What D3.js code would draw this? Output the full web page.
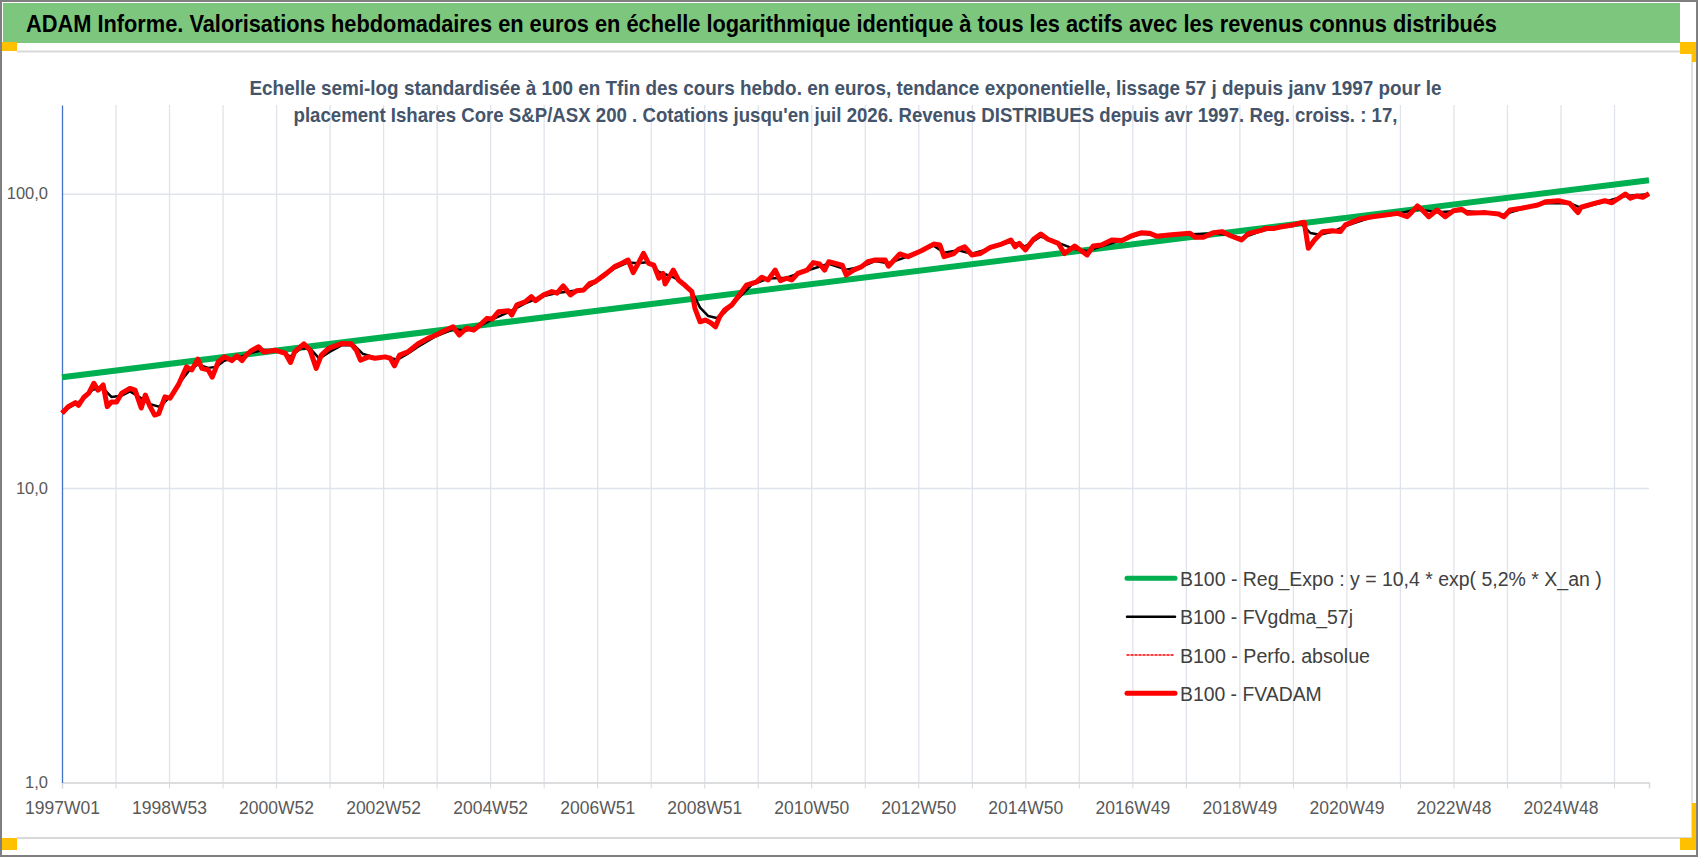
<!DOCTYPE html>
<html><head><meta charset="utf-8">
<script src="https://cdn.jsdelivr.net/npm/d3@7"></script>
<style>html,body{margin:0;padding:0;background:#fff;overflow:hidden}</style>
</head><body><svg id="c" width="1698" height="857"></svg>
<script>
// ---------------- DATA ----------------
const titleText = "ADAM Informe. Valorisations hebdomadaires en euros en échelle logarithmique identique à tous les actifs avec les revenus connus distribués";
const subtitleLines = [
  "Echelle semi-log standardisée à 100 en Tfin des cours hebdo. en euros, tendance exponentielle, lissage 57 j depuis janv 1997 pour le",
  "placement Ishares Core S&P/ASX 200 . Cotations jusqu'en juil 2026. Revenus DISTRIBUES depuis avr 1997. Reg. croiss. : 17,"
];
const xTickLabels = ["1997W01","1998W53","2000W52","2002W52","2004W52","2006W51","2008W51","2010W50","2012W50","2014W50","2016W49","2018W49","2020W49","2022W48","2024W48"];
const yTicks = [1, 10, 100];
const yTickLabels = ["1,0", "10,0", "100,0"];
const legendLabels = [
  "B100 - Reg_Expo : y = 10,4 * exp( 5,2% *  X_an )",
  "B100 - FVgdma_57j",
  "B100 - Perfo. absolue",
  "B100 - FVADAM"
];
// series: [week index in categories, value]
const regExpo = [[0, 23.8], [1542, 111.0]];
const fvadam = [[0,17.95],[6,18.9],[13,19.5],[16,19.1],[21,20.3],[26,21.0],[31,22.7],[35,21.5],[40,22.4],[44,18.9],[48,19.6],[53,19.6],[58,21.0],[66,21.8],[71,21.5],[77,18.7],[81,20.7],[85,19.1],[90,17.7],[94,17.9],[100,20.4],[105,20.2],[113,22.4],[121,25.8],[126,25.2],[132,27.4],[136,25.5],[142,25.2],[146,23.8],[152,26.9],[158,27.9],[165,27.1],[170,28.1],[175,27.1],[179,28.3],[184,29.3],[191,30.2],[196,29.0],[207,29.4],[217,28.7],[222,26.7],[226,29.0],[235,30.9],[241,29.4],[247,25.5],[252,28.3],[259,29.8],[272,31.0],[281,30.9],[286,29.4],[290,27.2],[298,27.9],[304,27.6],[314,27.9],[319,27.6],[323,26.0],[328,28.3],[336,29.0],[346,30.9],[356,32.3],[362,32.9],[370,34.0],[380,35.3],[386,33.1],[393,34.9],[400,34.4],
  [406,35.8],[413,37.7],[418,37.5],[424,39.7],[434,40.0],[437,38.7],[442,41.9],[450,42.9],[456,44.7],[460,43.3],[468,45.3],[476,46.5],[481,45.9],[487,48.6],[494,45.3],[500,46.8],[507,47.1],[513,49.6],[518,50.2],[529,53.6],[537,56.5],[544,58.0],[550,59.5],[555,53.9],[560,58.0],[565,62.7],[570,58.0],[575,57.2],[580,51.6],[584,53.6],[586,49.3],[594,55.0],[599,50.9],[605,48.9],[612,46.5],[615,40.8],[620,36.7],[625,37.2],[630,36.5],[635,35.3],[639,38.2],[644,40.3],[651,41.9],[657,44.7],[665,48.9],[675,50.2],[680,52.0],[686,50.9],[693,55.0],[698,50.6],[704,51.6],[709,50.9],[715,53.6],[724,55.0],[730,58.3],[736,57.7],[741,55.0],[745,58.7],[758,57.2],[762,52.9],[769,55.0],[777,56.5],
  [783,58.7],[790,59.5],[800,59.5],[803,56.7],[814,62.4],[822,61.1],[835,64.0],[847,67.4],[853,66.9],[857,61.1],[866,62.4],[871,64.7],[877,66.0],[884,61.9],[892,62.6],[902,65.7],[913,67.4],[922,69.6],[926,66.0],[930,67.8],[936,64.4],[944,70.0],[951,72.9],[958,70.0],[968,67.8],[974,62.6],[984,66.4],[996,61.9],[1002,66.4],[1010,66.9],[1020,69.6],[1030,69.3],[1039,71.8],[1049,73.7],[1057,73.3],[1064,71.6],[1078,72.5],[1096,73.3],[1101,71.1],[1109,71.1],[1119,73.7],[1127,74.3],[1136,71.8],[1146,69.6],[1153,73.3],[1166,75.2],
  [1169,76.2],[1178,76.2],[1185,77.2],[1196,78.3],[1204,79.6],[1207,80.0],[1211,65.2],[1217,69.6],[1225,74.3],[1234,74.8],[1242,74.3],[1247,78.3],[1260,81.8],[1273,83.5],[1286,84.6],[1298,85.7],[1307,83.5],[1311,86.2],[1317,90.8],[1321,88.5],[1328,83.5],[1336,88.0],[1344,83.5],[1352,87.5],[1360,88.5],[1366,85.7],[1383,86.2],[1396,85.3],[1401,83.5],[1407,88.0],[1418,89.2],[1434,91.5],[1442,93.9],[1454,94.6],[1465,92.7],[1473,86.2],[1476,89.9],[1489,92.7],[1499,94.6],[1506,93.1],[1519,99.7],[1524,96.5],[1530,98.2],[1536,97.2],[1542,100]];
const fvgdma57 = [[0,18.2],[10,19.0],[20,20.0],[30,21.6],[40,21.8],[48,20.4],[58,20.6],[66,21.3],[76,20.3],[85,19.3],[94,18.9],[100,19.6],[108,21.0],[116,23.2],[124,25.2],[132,26.3],[142,25.6],[150,25.8],[158,27.1],[170,27.6],[184,28.8],[196,29.5],[210,29.2],[222,28.0],[232,29.8],[241,29.8],[250,27.5],[260,29.0],[272,30.6],[284,30.5],[292,28.6],[304,27.8],[316,27.8],[326,27.3],[336,28.6],[346,30.2],[362,32.6],[380,34.6],[393,34.3],[406,35.5],[418,37.4],[434,39.6],[450,42.4],[468,44.9],[481,46.0],[494,46.6],[507,47.2],[518,49.8],[537,55.8],[550,58.4],[560,58.0],[570,58.6],[580,54.2],[594,52.0],[605,49.5],[612,46.5],[620,41.0],[628,38.4],[636,37.8],[644,39.5],[657,44.0],[670,49.0],[686,51.5],[704,51.8],[724,54.8],[745,57.8],[762,55.2],[777,56.5],[790,59.0],[803,58.0],[822,61.2],[847,66.6],[857,63.0],[871,64.2],[884,62.5],[902,65.2],[922,68.6],[936,66.2],[951,71.5],[968,68.0],[984,64.8],[996,63.8],[1010,66.2],[1030,69.6],[1049,73.0],[1064,72.2],[1096,72.8],[1119,73.2],[1136,72.2],[1146,70.6],[1166,74.8],[1185,76.8],[1204,79.2],[1213,73.5],[1222,72.5],[1234,74.2],[1247,77.6],[1273,83.2],[1298,85.4],[1317,88.6],[1336,86.4],[1360,87.5],[1383,86.0],[1401,85.0],[1418,88.6],[1442,93.0],[1465,92.8],[1476,89.4],[1499,93.8],[1519,98.2],[1542,99.6]];
const perfoAbsolue = fvadam; // coincides with FVADAM on the picture

// weekly categories (ISO weeks) 1997W01 .. 2026W30
const categories = d3.utcMonday.range(new Date(Date.UTC(1996,11,30)), new Date(Date.UTC(2026,6,21))).map(d3.utcFormat("%GW%V"));

// ---------------- LAYOUT ----------------
const W = 1698, H = 857;
const plot = {left: 62, right: 1649, top: 105, bottom: 782.5};
const FONT = "'Liberation Sans Narrow','Liberation Sans',Arial,sans-serif";
const svg = d3.select("#c");

// frame
svg.append("rect").attr("x",0).attr("y",0).attr("width",W).attr("height",H).attr("fill","#fff");
svg.append("rect").attr("x",3).attr("y",3).attr("width",1677).attr("height",40).attr("fill","#7CC67D");
svg.append("line").attr("x1",17).attr("x2",1692).attr("y1",51.5).attr("y2",51.5).attr("stroke","#d9d9d9").attr("stroke-width",2);
svg.append("line").attr("x1",17).attr("x2",1692).attr("y1",838).attr("y2",838).attr("stroke","#d9d9d9").attr("stroke-width",2);
svg.append("line").attr("x1",1692).attr("x2",1692).attr("y1",51).attr("y2",838).attr("stroke","#d9d9d9").attr("stroke-width",1.5);
const yel = "#FFC000";
[[0,42,17,9],[1680,42,16,12],[1692,42,4,20],[0,838,17,12],[1680,838,16,12],[1692,803,4,47]].forEach(r=>{
  svg.append("rect").attr("x",r[0]).attr("y",r[1]).attr("width",r[2]).attr("height",r[3]).attr("fill",yel);
});
svg.append("rect").attr("x",1).attr("y",1).attr("width",W-2).attr("height",H-2).attr("fill","none").attr("stroke","#7f7f7f").attr("stroke-width",2);

// title
svg.append("text").attr("x",26).attr("y",32).attr("font-family",FONT).attr("font-size",24).attr("font-weight","bold")
  .attr("fill","#000").attr("textLength",1471).attr("lengthAdjust","spacingAndGlyphs").text(titleText);

// scales
const x = d3.scalePoint().domain(categories).range([plot.left, plot.right]);
const y = d3.scaleLog().domain([1, 200]).range([plot.bottom, plot.top]);
const X = d => x(categories[d[0]]);
const Y = d => y(d[1]);

// gridlines (vertical every 52 weeks)
const gridCats = categories.filter((d,i)=> i % 52 === 0);
const gx = svg.append("g").attr("transform",`translate(0,${plot.bottom})`)
  .call(d3.axisBottom(x).tickValues(gridCats).tickSize(-(plot.bottom-plot.top)).tickFormat(""));
gx.select(".domain").remove();
gx.selectAll(".tick line").attr("stroke","#dfe3ea").attr("stroke-width",1.3);
gx.selectAll(".tick").filter(d=>d===categories[0]).remove();

// horizontal gridlines
const gy = svg.append("g").attr("transform",`translate(${plot.left},0)`)
  .call(d3.axisLeft(y).tickValues(yTicks).tickSize(-(plot.right-plot.left)).tickFormat(""));
gy.select(".domain").remove();
gy.selectAll(".tick line").attr("stroke","#dfe3ea").attr("stroke-width",1.5);

// subtitle (drawn over gridlines)
subtitleLines.forEach((t,i)=>{
  svg.append("text").attr("x",845.5).attr("y",[94.5,122][i]).attr("text-anchor","middle")
    .attr("font-family",FONT).attr("font-size",21).attr("font-weight","bold").attr("fill","#44546A")
    .attr("textLength",[1192,1104][i]).attr("lengthAdjust","spacingAndGlyphs").text(t);
});

// x axis: ticks every 52, labels every 104
const xt = svg.append("g").attr("transform",`translate(0,${plot.bottom})`)
  .call(d3.axisBottom(x).tickValues(gridCats).tickSize(6).tickFormat(""));
xt.select(".domain").attr("stroke","#d9d9d9").attr("stroke-width",1.5);
xt.selectAll(".tick line").attr("stroke","#d9d9d9");
const xl = svg.append("g").attr("transform",`translate(0,${plot.bottom})`)
  .call(d3.axisBottom(x).tickValues(xTickLabels).tickSize(0).tickPadding(0));
xl.select(".domain").remove();
xl.selectAll(".tick text").attr("y",31.5).attr("dy",null).attr("font-family",FONT).attr("font-size",17.5).attr("fill","#595959");

// y axis
const ya = svg.append("g").attr("transform",`translate(${plot.left},0)`)
  .call(d3.axisLeft(y).tickValues(yTicks).tickSize(0).tickPadding(14).tickFormat((d,i)=>yTickLabels[i]));
ya.select(".domain").attr("stroke","#4472C4").attr("stroke-width",1.3);
ya.selectAll(".tick text").attr("font-family",FONT).attr("font-size",16.5).attr("fill","#595959");

// series
const line = d3.line().x(X).y(Y);
const series = [
  {data: regExpo, color: "#00B050", width: 6, dash: null},
  {data: fvgdma57, color: "#000000", width: 2.5, dash: null},
  {data: perfoAbsolue, color: "#FF0000", width: 1.5, dash: "2,2"},
  {data: fvadam, color: "#FF0000", width: 5, dash: null}
];
series.forEach(s=>{
  svg.append("path").datum(s.data).attr("d",line).attr("fill","none")
    .attr("stroke",s.color).attr("stroke-width",s.width).attr("stroke-linejoin","round")
    .attr("stroke-dasharray",s.dash);
});

// legend
const legY = [578.3, 616.7, 655, 693.3];
const legW = [421.7, 173, 190, 141.7];
const legStyle = [
  {color:"#00B050", width:5, dash:null},
  {color:"#000000", width:2.5, dash:null},
  {color:"#FF0000", width:1.5, dash:"2,2"},
  {color:"#FF0000", width:5, dash:null}
];
legendLabels.forEach((t,i)=>{
  svg.append("line").attr("x1",1127).attr("x2",1175).attr("y1",legY[i]).attr("y2",legY[i])
    .attr("stroke",legStyle[i].color).attr("stroke-width",legStyle[i].width).attr("stroke-linecap","round")
    .attr("stroke-dasharray",legStyle[i].dash);
  svg.append("text").attr("x",1180).attr("y",legY[i]+7.7).attr("font-family",FONT).attr("font-size",20)
    .attr("fill","#404040").attr("textLength",legW[i]).attr("lengthAdjust","spacingAndGlyphs").text(t);
});
</script>
</body></html>
